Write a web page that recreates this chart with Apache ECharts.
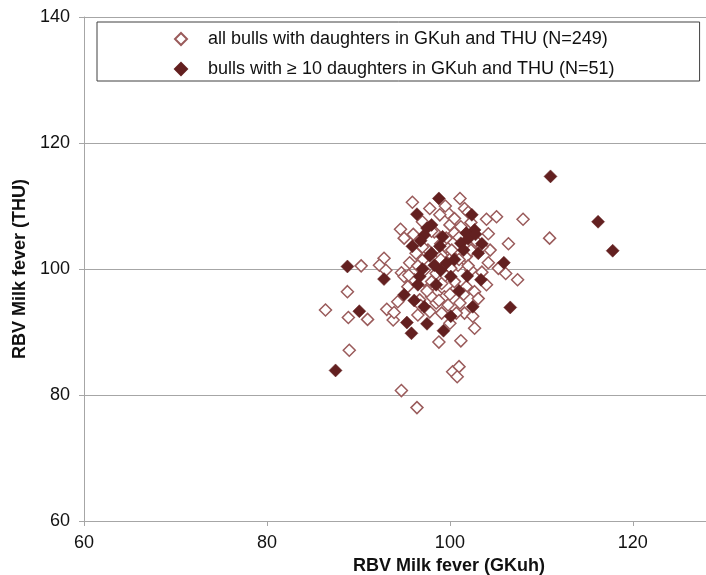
<!DOCTYPE html>
<html><head><meta charset="utf-8">
<script src="https://cdn.jsdelivr.net/npm/echarts@6/dist/echarts.min.js"></script>
<style>html,body{margin:0;padding:0;background:#fff}#c{width:706px;height:575px}</style>
</head><body><div id="c"></div>
<script>
const seriesNames = ['all bulls with daughters in GKuh and THU (N=249)', 'bulls with \u2265 10 daughters in GKuh and THU (N=51)'];
const xTicks = [60, 80, 100, 120];
const yTicks = [60, 80, 100, 120, 140];
const allBulls = [
[95.9,110.6],[97.8,109.6],[101.1,111.2],[101.6,109.6],[99.8,108.9],[98.9,108.6],[104.0,107.9],[105.1,108.3],
[108.0,107.9],[110.9,104.9],[106.4,104.0],[94.6,106.3],[95.0,104.9],[104.2,105.6],[104.4,103.0],[92.8,101.7],
[92.3,100.6],[90.3,100.5],[93.0,99.8],[94.7,99.4],[88.8,96.4],[86.4,93.5],[88.9,92.3],[91.0,92.0],[93.1,93.6],
[93.8,91.9],[93.9,93.1],[94.3,94.8],[89.0,87.1],[94.7,80.7],[96.4,78.0],[100.3,83.7],[101.0,84.5],[100.8,82.9],
[98.8,88.4],[101.2,88.6],[102.7,90.6],[101.6,93.0],[101.1,94.6],[99.4,95.6],[98.5,96.1],[97.8,97.2],[99.1,97.7],
[100.7,96.9],[101.8,97.2],[102.7,96.4],[103.1,95.3],[107.4,98.3],[106.1,99.3],[105.3,100.1],[104.2,101.0],
[96.5,92.7],[97.8,93.2],[99.1,93.0],[100.7,93.0],[100.0,91.4],[95.6,101.0],[96.3,102.5],[97.0,101.4],[98.5,99.3],
[97.6,103.0],[99.6,103.5],[100.3,102.0],[100.9,100.6],[102.3,99.8],[101.8,102.0],[102.3,107.4],[100.0,107.0],
[98.3,105.9],[100.5,105.7],[99.6,104.9],[99.1,102.2],[97.2,99.8],[96.1,98.3],[95.4,97.2],[95.0,98.8],[100.1,100.1],
[98.0,95.6],[96.7,95.1],[98.5,94.6],[99.8,94.3],[102.3,103.0],[101.2,106.7],
[97.0,107.5],[98.0,106.0],[99.0,104.0],[100.2,103.0],[101.0,101.5],[102.0,100.5],[99.5,99.0],[98.0,98.0],
[100.5,98.0],[101.5,96.0],[97.5,96.5],[96.5,100.5],[99.0,101.5],[102.8,104.5],[103.5,103.5],[100.0,96.0],
[98.8,95.0],[101.0,105.0],[96.0,105.5],[97.0,103.5],[103.5,99.5],[104.0,97.5],[95.5,99.0],[99.5,110.0],
[100.5,108.0],[102.0,109.0],[96.8,94.2],[102.5,92.5]
];
const tenPlus = [
[111.0,114.7],[98.8,111.2],[96.4,108.7],[102.4,108.6],[88.8,100.4],[92.8,98.4],[105.9,101.0],[106.6,93.9],
[90.1,93.3],[87.5,83.9],[95.0,95.9],[96.1,95.0],[97.2,94.0],[95.3,91.5],[95.8,89.8],[97.5,91.3],[99.3,90.2],
[100.1,92.5],[102.5,94.0],[103.4,98.3],[101.9,98.9],[100.1,98.8],[96.7,98.8],[98.3,100.6],[99.6,100.9],
[97.8,102.1],[95.9,103.6],[98.9,103.6],[101.2,104.1],[102.7,106.2],[101.8,105.7],[103.1,102.5],[97.2,105.4],
[98.0,107.0],[99.2,105.1],[116.2,107.5],[117.8,102.9],
[96.8,104.5],[97.5,106.5],[98.0,102.5],[99.0,99.8],[100.5,101.5],[101.5,103.0],[102.0,104.8],[102.8,105.5],
[97.0,100.0],[98.5,97.5],[101.0,96.5],[103.5,104.0],[96.5,97.5]
];
const chart = echarts.init(document.getElementById('c'));
const font = 'Liberation Sans, Arial, sans-serif';
chart.setOption({
  animation: false,
  textStyle: {fontFamily: font},
  grid: {left: 84, top: 17, right: 0, bottom: 54, containLabel: false, outerBoundsMode: 'none'},
  legend: {
    left: 97, top: 22, orient: 'vertical',
    borderColor: '#404040', borderWidth: 1,
    padding: [8, 85, 3, 77], itemGap: 12, itemWidth: 12, itemHeight: 12,
    textStyle: {fontSize: 18, color: '#111', fontFamily: font, padding: [0, 0, 0, 16]},
    data: seriesNames
  },
  xAxis: {
    type: 'value', min: 60, max: 128, interval: 20,
    name: 'RBV Milk fever (GKuh)', nameLocation: 'middle', nameGap: 35,
    nameTextStyle: {fontSize: 18, fontWeight: 'bold', color: '#111', padding: [0, 0, 0, 108]},
    axisLine: {show: true, lineStyle: {color: '#a6a6a6'}},
    axisTick: {show: true, length: 5, lineStyle: {color: '#a6a6a6'}},
    axisLabel: {fontSize: 18, color: '#111', margin: 13, showMaxLabel: false,
      formatter: v => xTicks.includes(v) ? String(v) : ''},
    splitLine: {show: false}
  },
  yAxis: {
    type: 'value', min: 60, max: 140, interval: 20,
    name: 'RBV Milk fever (THU)', nameLocation: 'middle', nameGap: 50,
    nameTextStyle: {fontSize: 18, fontWeight: 'bold', color: '#111'},
    axisLine: {show: true, lineStyle: {color: '#a6a6a6'}},
    axisTick: {show: true, length: 5, lineStyle: {color: '#a6a6a6'}},
    axisLabel: {fontSize: 18, color: '#111', margin: 14,
      formatter: v => yTicks.includes(v) ? String(v) : ''},
    splitLine: {show: true, lineStyle: {color: '#a6a6a6'}}
  },
  series: [
    {name: seriesNames[0], type: 'scatter', symbol: 'diamond', symbolSize: 12, data: allBulls,
     itemStyle: {color: '#ffffff', borderColor: '#9a5b5b', borderWidth: 1.5, opacity: 1}},
    {name: seriesNames[1], type: 'scatter', symbol: 'diamond', symbolSize: 13, data: tenPlus,
     itemStyle: {color: '#632020', borderColor: '#632020', borderWidth: 0.5, opacity: 1}}
  ]
});
</script></body></html>
